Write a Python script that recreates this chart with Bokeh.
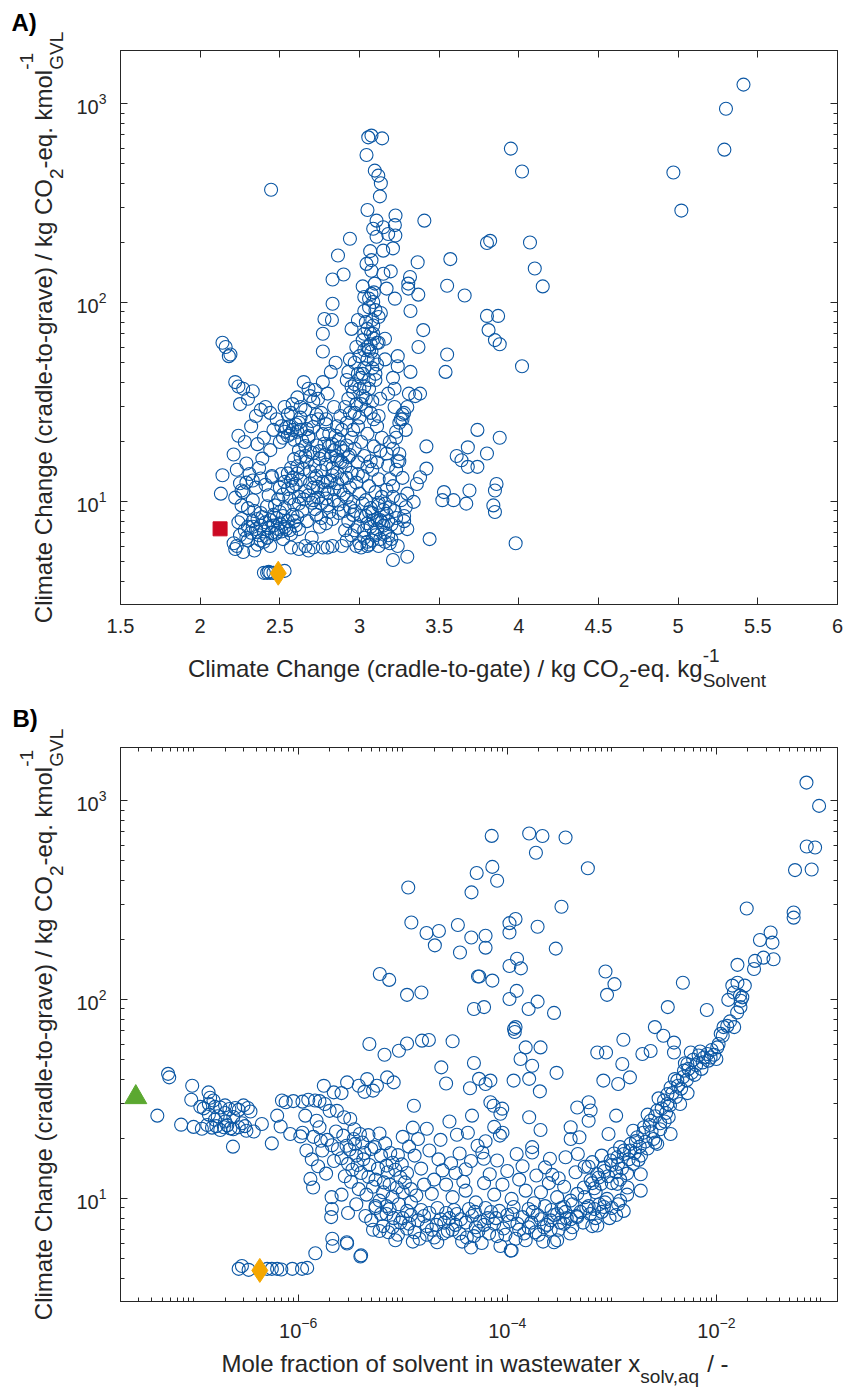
import math
from bokeh.plotting import figure
from bokeh.models import (Range1d, FixedTicker, LinearAxis, LogAxis, Label,
                          CustomJSTickFormatter)
from bokeh.layouts import column, row
from bokeh.embed import file_html
from bokeh.resources import INLINE

# ---------------- data: panel A (cradle-to-gate vs cradle-to-grave) ----------------
a_upper = [(3.055, 679), (3.075, 693), (3.142, 671), (3.044, 554), (3.096, 462), (3.118, 436),
           (3.134, 399), (3.128, 343), (3.05, 293), (3.226, 275), (3.407, 259), (3.107, 259),
           (3.086, 236), (3.149, 240), (3.222, 246), (3.18, 222), (3.225, 218), (3.107, 215),
           (2.94, 210), (3.21, 188), (3.149, 183), (3.067, 182), (2.865, 173), (3.365, 160),
           (3.075, 164), (3.044, 157), (3.196, 144), (3.075, 145), (2.90, 139), (2.831, 131),
           (3.317, 135), (3.306, 125), (3.306, 118), (3.02, 121), (3.096, 125), (3.17, 118),
           (3.369, 110), (3.03, 107), (3.075, 111), (3.086, 101), (3.222, 105), (2.831, 99),
           (3.134, 89), (3.03, 91), (3.32, 91), (2.78, 83), (2.827, 82), (2.77, 70), (2.95, 74),
           (3.086, 77), (3.086, 70), (3.16, 66), (3.03, 70), (3.40, 73), (3.37, 60), (2.77, 57),
           (3.075, 57), (3.24, 54), (3.05, 60), (3.11, 63), (3.06, 95), (3.12, 85), (3.15, 140)]
a_left_high = [(2.445, 370), (2.14, 63), (2.16, 60), (2.19, 55), (2.18, 54)]
a_right = [(5.41, 1250), (5.30, 946), (5.29, 589), (4.97, 452), (5.02, 291), (3.95, 596),
           (4.02, 457), (4.07, 201), (4.10, 149), (4.15, 121), (3.80, 200), (3.82, 205),
           (4.02, 48), (3.80, 86), (3.87, 86), (3.81, 73), (3.85, 65), (3.88, 62), (3.57, 166),
           (3.66, 109), (3.55, 122), (3.55, 55), (3.54, 45), (3.74, 23), (3.88, 21), (3.80, 17.5),
           (3.68, 18.8), (3.64, 16.2), (3.68, 15), (3.74, 15), (3.86, 12.3), (3.85, 11.4),
           (3.61, 17), (3.53, 11.2), (3.52, 10.2), (3.59, 10.2), (3.69, 11.4), (3.67, 9.8),
           (3.84, 9.6), (3.85, 8.9), (3.98, 6.2), (3.44, 6.5)]
a_bottom_left = [(2.32, 7.0), (2.35, 7.3), (2.37, 6.8), (2.38, 7.6), (2.40, 7.1), (2.41, 7.9),
                 (2.42, 6.6), (2.43, 7.4), (2.44, 8.1), (2.45, 7.0), (2.46, 7.6), (2.47, 6.9),
                 (2.48, 8.3), (2.49, 7.3), (2.50, 7.8), (2.51, 7.1), (2.52, 8.5), (2.53, 7.5),
                 (2.55, 8.0), (2.56, 7.2), (2.58, 8.6), (2.60, 7.6), (2.36, 8.2), (2.33, 8.0),
                 (2.30, 7.5), (2.28, 7.2), (2.26, 8.2), (2.24, 7.9), (2.40, 6.3), (2.44, 6.0),
                 (2.36, 6.1), (2.23, 6.0), (2.21, 6.2), (2.22, 5.8), (2.27, 5.6), (2.30, 6.4),
                 (2.52, 6.5), (2.57, 6.9), (2.62, 7.3), (2.34, 5.7), (2.38, 6.4), (2.42, 6.6),
                 (2.25, 6.8), (2.29, 6.6), (2.33, 7.5), (2.39, 8.4), (2.46, 8.6), (2.48, 7.0),
                 (2.54, 7.3), (2.59, 8.0)]
a_low_row = [(2.40, 4.4), (2.42, 4.4), (2.43, 4.45), (2.44, 4.4), (2.46, 4.4), (2.53, 4.5),
             (2.57, 5.9), (2.62, 5.8), (2.68, 5.7), (2.77, 5.9), (2.80, 5.9), (2.83, 6.0),
             (2.89, 6.0), (2.66, 6.0), (2.71, 5.9)]
a_diagonal = [(2.47, 9.6), (2.49, 10.3), (2.50, 11.8), (2.52, 10.9), (2.53, 12.6), (2.55, 13.9),
              (2.55, 11.6), (2.57, 14.8), (2.58, 13.2), (2.59, 16.4), (2.61, 15.1), (2.62, 18.2),
              (2.63, 16.8), (2.64, 20.3), (2.66, 19.1), (2.67, 23.2), (2.68, 21.4), (2.70, 25.5),
              (2.71, 23.8), (2.73, 27.4), (2.56, 10.4), (2.58, 11.9), (2.60, 12.3), (2.61, 13.9),
              (2.63, 12.9), (2.65, 14.6), (2.67, 15.9), (2.69, 14.2), (2.71, 17.6), (2.73, 19.2),
              (2.75, 18.0), (2.77, 21.9), (2.79, 24.6), (2.50, 8.9), (2.53, 9.3), (2.59, 9.7),
              (2.62, 10.6), (2.66, 11.3), (2.69, 12.4), (2.72, 13.1), (2.76, 14.3), (2.79, 15.4),
              (2.82, 16.9)]
a_knot = [(2.52, 21), (2.53, 22.5), (2.54, 23.5), (2.55, 21.5), (2.56, 24), (2.57, 22),
          (2.58, 23), (2.59, 20.5), (2.60, 24.5), (2.61, 22.5), (2.62, 25), (2.63, 23),
          (2.50, 20), (2.51, 24)]
a_left_mid = [(2.21, 17.3), (2.23, 14.5), (2.25, 12.4), (2.27, 11.2), (2.29, 15.6), (2.31, 13.8),
              (2.33, 10.2), (2.35, 11.8), (2.37, 14.8), (2.39, 16.5), (2.41, 12.2), (2.43, 10.8),
              (2.44, 18.2), (2.30, 9.3), (2.34, 9.0), (2.26, 9.6), (2.22, 10.5), (2.38, 8.8),
              (2.42, 9.5), (2.45, 13.5), (2.36, 19.5), (2.40, 21), (2.28, 20), (2.24, 21.5),
              (2.32, 24), (2.35, 27), (2.38, 29), (2.25, 31), (2.30, 33), (2.27, 37), (2.33, 36),
              (2.41, 30), (2.22, 40), (2.24, 38), (2.14, 13.6), (2.13, 11), (2.26, 11.4),
              (2.29, 12.5), (2.33, 12.8), (2.38, 13.1), (2.45, 13.3), (2.51, 13.8), (2.57, 12.8)]
a_middle = [(2.72, 9.2), (2.74, 10.5), (2.76, 8.3), (2.78, 11.5), (2.80, 9.6), (2.82, 12.8),
            (2.84, 10.2), (2.86, 14), (2.88, 11.4), (2.71, 11.8), (2.73, 13.5), (2.75, 7.5),
            (2.79, 7.8), (2.83, 8.2), (2.87, 8.8), (2.89, 13), (2.85, 17), (2.83, 19.5),
            (2.81, 22), (2.86, 24), (2.88, 27), (2.84, 30), (2.79, 26), (2.76, 28), (2.90, 18),
            (2.87, 20.5), (2.74, 33), (2.80, 35), (2.77, 40), (2.82, 45), (2.85, 50), (2.70, 6.6),
            (2.68, 37), (2.71, 32), (2.63, 30), (2.57, 28), (2.68, 21), (2.74, 26), (2.92, 41),
            (2.97, 39), (2.62, 9.8), (2.65, 10.3), (2.68, 10.8), (2.71, 10.2), (2.74, 11.9),
            (2.77, 12.6), (2.80, 11.1), (2.83, 13.6), (2.86, 12.4), (2.89, 15.8), (2.92, 13.2),
            (2.75, 16.5), (2.72, 15.2), (2.69, 17.8), (2.66, 17.0), (2.78, 19.6), (2.84, 18.2),
            (2.88, 16.0), (2.92, 19.2), (2.94, 17.2)]
a_fill = [(2.61, 8.4), (2.64, 9.0), (2.67, 8.0), (2.70, 9.9), (2.73, 8.6), (2.76, 9.8),
          (2.79, 10.4), (2.81, 8.9), (2.84, 11.6), (2.87, 9.7), (2.90, 10.9), (2.63, 26.5),
          (2.66, 29), (2.69, 34), (2.72, 36.5), (2.65, 40), (2.61, 33.5), (2.58, 31), (2.55, 27.5),
          (2.53, 30), (2.48, 26), (2.46, 23), (2.44, 28), (2.80, 12.6), (2.83, 14.8), (2.86, 16.2),
          (2.88, 18.8), (2.81, 19), (2.78, 17.2), (2.85, 21.5), (2.89, 23), (2.91, 30),
          (2.93, 33), (2.96, 35.5), (2.99, 44), (2.94, 52), (3.02, 65), (2.99, 82)]
a_column = [(2.91, 7.2), (2.93, 8.0), (2.95, 6.8), (2.97, 9.0), (2.99, 7.5), (3.01, 8.5),
            (3.03, 6.6), (3.05, 7.8), (3.07, 9.3), (3.09, 7.0), (3.11, 8.2), (3.13, 6.5),
            (3.15, 7.6), (2.92, 10.5), (2.94, 11.8), (2.96, 10), (2.98, 12.5), (3.00, 11),
            (3.02, 13.5), (3.04, 10.2), (3.06, 12), (3.08, 14.5), (3.10, 11.2), (3.12, 13),
            (3.14, 10.6), (2.91, 15), (2.93, 16.8), (2.95, 14), (2.97, 18.5), (2.99, 15.8),
            (3.01, 20), (3.03, 17), (3.05, 22), (3.07, 16), (3.09, 19), (3.11, 24), (3.13, 18),
            (2.92, 25), (2.94, 28), (2.96, 23), (2.98, 31), (3.00, 26.5), (3.02, 34), (3.04, 29),
            (3.06, 37), (3.08, 32), (3.10, 41), (3.12, 27), (2.93, 45), (2.97, 50), (3.00, 54),
            (3.03, 47), (3.06, 58), (3.09, 52), (3.12, 63), (2.95, 38), (3.01, 42), (3.07, 70),
            (3.04, 80), (2.98, 60), (2.96, 8.6), (3.02, 9.8), (3.08, 8.8), (3.12, 9.6),
            (2.94, 9.4), (3.00, 6.2), (3.06, 6.1), (2.90, 9.0), (2.99, 13.8), (3.05, 15),
            (3.11, 15.8), (3.09, 26), (3.03, 38), (2.95, 21), (3.14, 21), (3.01, 5.9),
            (2.98, 6.0), (3.05, 6.3), (2.97, 7.2), (3.03, 7.2), (3.07, 7.5), (3.10, 6.8),
            (3.04, 8.5), (3.13, 8.1), (2.92, 6.4), (3.12, 6.0), (3.05, 6.0), (3.10, 44),
            (3.13, 33), (3.07, 28)]
a_stalk = [(3.04, 33), (3.06, 41), (3.08, 47), (3.05, 52), (3.07, 62), (3.09, 66), (3.05, 74),
           (3.08, 82), (3.10, 92), (3.06, 105), (3.09, 113), (3.03, 58), (3.11, 49), (3.02, 44),
           (3.00, 37), (2.97, 28), (2.99, 24), (3.01, 31)]
a_column_r = [(3.16, 7.0), (3.18, 8.0), (3.20, 6.5), (3.22, 9.0), (3.24, 7.4), (3.26, 10.2),
              (3.28, 8.5), (3.17, 11.5), (3.19, 13), (3.21, 12), (3.23, 14.5), (3.25, 16),
              (3.27, 13.2), (3.17, 17.5), (3.19, 20), (3.21, 18.5), (3.23, 22.5), (3.25, 25),
              (3.29, 23), (3.27, 27.5), (3.30, 11), (3.29, 9.4), (3.21, 5.1), (3.30, 5.3),
              (3.19, 6.2), (3.16, 9.8), (3.18, 15.2), (3.22, 30), (3.18, 35), (3.21, 42),
              (3.24, 48), (3.16, 52), (3.30, 30), (3.31, 35), (3.35, 34), (3.38, 35),
              (3.36, 12.3), (3.38, 13.3), (3.42, 19), (3.42, 14.7), (3.34, 10), (3.32, 45),
              (3.24, 6.0), (3.26, 26), (3.28, 8.0), (3.30, 7.3), (3.23, 21), (3.25, 17.4),
              (3.24, 16), (3.22, 37), (3.28, 28), (3.27, 26), (3.08, 6.4), (3.11, 7.3),
              (3.14, 7.9), (3.17, 8.7), (3.20, 7.7), (3.23, 8.3), (3.18, 6.8), (3.15, 9.1),
              (3.12, 9.9), (3.09, 8.1), (3.06, 8.9), (3.21, 10.6), (3.19, 9.4), (3.16, 6.3)]
a_ref_square = [(2.125, 7.32)]
a_ref_diamond = [(2.49, 4.38)]

# ---------------- data: panel B (mole fraction in wastewater vs cradle-to-grave) ----------------
b_left = [(5.7e-8, 42.5), (5.85e-8, 40.8), (4.5e-8, 26.2), (7.6e-8, 23.6), (9.7e-8, 37),
          (9.5e-8, 31.5), (1.39e-7, 34.3), (1.44e-7, 32.2), (1.55e-7, 31.2), (1.16e-7, 29),
          (2.38e-7, 18.3), (3.76e-7, 21.8), (5.6e-7, 19), (1.0e-7, 23.0), (1.2e-7, 22.5),
          (1.35e-7, 23.5), (1.5e-7, 22.8), (1.65e-7, 23.2), (1.8e-7, 22.2), (1.95e-7, 22.9),
          (2.1e-7, 23.4), (2.25e-7, 22.6), (2.4e-7, 22.4), (2.7e-7, 22.9), (3.1e-7, 23.2),
          (1.25e-7, 28.5), (1.4e-7, 30), (1.6e-7, 29), (1.8e-7, 28.8), (2.0e-7, 29.5),
          (2.2e-7, 28.3), (2.5e-7, 28.6), (2.7e-7, 28), (3.0e-7, 29.5), (3.3e-7, 28.6),
          (1.4e-7, 26.5), (1.7e-7, 26.0), (2.0e-7, 27), (2.4e-7, 25.8), (2.0e-7, 24.5),
          (1.6e-7, 25), (3.5e-7, 27.5), (3.2e-7, 22), (2.9e-7, 24), (4.5e-7, 23.8),
          (6.3e-7, 26.2), (7.0e-7, 31.2), (7.6e-7, 30.6), (6.8e-7, 23.1), (8.4e-7, 21.2)]
b_floor = [(2.7e-7, 4.45), (2.9e-7, 4.6), (3.36e-7, 4.4), (5.05e-7, 4.45), (5.6e-7, 4.45),
           (6.3e-7, 4.45), (6.9e-7, 4.42), (8.8e-7, 4.45), (1.09e-6, 4.45), (1.22e-6, 4.5)]
b_mid = [(1.05e-6, 20.6), (9.0e-7, 31), (1.1e-6, 30.8), (1.25e-6, 31.5), (1.45e-6, 31.2),
         (1.6e-6, 31), (1.8e-6, 30), (1.76e-6, 37), (2.19e-6, 34.3), (2.94e-6, 38.5),
         (3.8e-6, 37), (4.57e-6, 40), (5.67e-6, 37), (7.1e-6, 40.8), (8.2e-6, 38.5),
         (4.3e-6, 34.5), (5.2e-6, 35), (2.6e-6, 34), (2.0e-6, 27.7), (2.35e-6, 27.7),
         (2.75e-6, 25.7), (3.15e-6, 25.2), (3.45e-6, 22.4), (1.17e-6, 26.2), (1.5e-6, 24.7),
         (1.6e-6, 22.9), (1.1e-6, 21.5), (1.4e-6, 20.5), (1.9e-6, 19.8), (2.1e-6, 18.6),
         (1.7e-6, 17.5), (2.4e-6, 17.8), (2.9e-6, 18.5), (3.4e-6, 20), (3.9e-6, 21.2),
         (4.3e-6, 17), (3.6e-6, 16.5), (2.6e-6, 16), (3.0e-6, 15), (2.2e-6, 15.5), (3.3e-6, 14),
         (4.0e-6, 13.5), (2.8e-6, 13), (4.8e-6, 14.8), (5.5e-6, 12.5), (6.2e-6, 16.5),
         (6.8e-6, 19), (7.6e-6, 17), (8.5e-6, 14), (9.5e-6, 12.8), (5.2e-6, 11.5),
         (6.5e-6, 10.8), (7.5e-6, 11.8), (4.5e-6, 10.5), (3.8e-6, 11.2), (6.0e-6, 9.8),
         (8.0e-6, 10.2), (1.0e-5, 10.8), (1.2e-5, 9.6), (5.5e-6, 9.0), (7.0e-6, 9.2),
         (1.1e-5, 13.5), (1.3e-5, 16.5), (1.5e-5, 14.2), (1.8e-5, 17.5), (2.2e-5, 15.8),
         (1.4e-5, 20), (1.7e-5, 22.5), (2.3e-5, 19.8), (2.8e-5, 24.5), (3.3e-5, 21),
         (2.0e-5, 12.5), (2.6e-5, 11.8), (3.2e-5, 13.5), (3.8e-5, 12.2), (4.5e-5, 15.5),
         (5.2e-5, 18.5), (4.2e-5, 21.5), (6.2e-5, 19.5), (7.5e-5, 23), (9.0e-5, 21.5),
         (1.31e-6, 12.6), (1.39e-6, 11.4), (2.09e-6, 10.2), (2.07e-6, 8.1), (2.12e-6, 6.3),
         (2.14e-6, 5.8), (1.46e-6, 5.33), (2.92e-6, 6.05), (4.0e-6, 5.2), (2.1e-6, 8.9),
         (3.94e-6, 5.13), (2.94e-6, 5.97)]
b_mid_fill = [(3.2e-6, 12.2), (3.7e-6, 14.8), (4.2e-6, 15.8), (4.7e-6, 12.9), (5.0e-6, 17.8),
              (5.8e-6, 14.2), (6.6e-6, 12.1), (7.2e-6, 13.6), (8.0e-6, 15.2), (8.8e-6, 11.4),
              (9.8e-6, 14.9), (1.05e-5, 12.1), (1.2e-5, 11.2), (1.35e-5, 10.4), (1.6e-5, 11.8),
              (1.9e-5, 10.6), (2.4e-5, 13.9), (2.9e-5, 15.1), (3.5e-5, 16.9), (4.0e-5, 14.1),
              (6.8e-5, 13.3), (8.0e-5, 15.6), (1.0e-4, 13.8), (1.4e-4, 14.6), (1.9e-4, 13.1),
              (2.3e-4, 14.4), (2.7e-4, 13.2), (3.1e-4, 12.7), (4.5e-4, 13.6), (5.5e-4, 14.5),
              (1.2e-6, 17.5), (1.35e-6, 15.8), (1.55e-6, 14.6), (1.85e-6, 13.4), (1.65e-6, 19.6),
              (2.3e-6, 21.8), (2.7e-6, 20.8), (3.1e-6, 17.7), (3.5e-6, 18.9), (4.1e-6, 19.2),
              (4.7e-6, 20.9), (5.4e-6, 18.2), (6.0e-6, 21.3), (7.0e-6, 14.7), (9.0e-6, 16.6),
              (1.15e-5, 18.3), (1.0e-5, 20.5), (1.25e-5, 22.8)]
b_floor_band = [(5e-6, 7.8), (6e-6, 6.9), (7e-6, 8.4), (8e-6, 7.2), (9e-6, 6.6), (1.0e-5, 8.0),
                (1.15e-5, 7.5), (1.3e-5, 6.8), (1.5e-5, 8.8), (1.7e-5, 7.3), (2.0e-5, 6.4),
                (2.3e-5, 7.9), (2.6e-5, 8.5), (3.0e-5, 7.0), (3.5e-5, 6.7), (4.0e-5, 7.6),
                (4.6e-5, 8.2), (5.3e-5, 6.9), (6.0e-5, 7.4), (7.0e-5, 8.6), (8.0e-5, 6.5),
                (9.2e-5, 7.1), (1.05e-4, 7.7), (1.2e-4, 6.3), (1.4e-4, 8.1), (1.6e-4, 7.2),
                (1.85e-4, 6.8), (2.1e-4, 7.9), (2.4e-4, 7.4), (2.8e-4, 8.3), (3.2e-4, 7.6),
                (3.7e-4, 8.0), (5.5e-6, 9.2), (6.5e-6, 7.3), (7.5e-6, 8.9), (8.5e-6, 6.2),
                (9.5e-6, 7.6), (1.1e-5, 8.7), (1.25e-5, 6.1), (1.4e-5, 7.8), (1.6e-5, 8.2),
                (1.9e-5, 7.0), (2.15e-5, 9.0), (2.45e-5, 6.7), (2.8e-5, 8.0), (3.2e-5, 7.4),
                (3.7e-5, 6.1), (4.3e-5, 8.9), (5.0e-5, 7.2), (5.7e-5, 6.0), (6.5e-5, 8.0),
                (7.5e-5, 7.5), (8.6e-5, 5.8), (1.0e-4, 8.3), (1.1e-4, 5.5), (1.3e-4, 7.0),
                (1.5e-4, 6.2), (1.75e-4, 8.6), (2.0e-4, 6.6), (2.3e-4, 9.2), (2.6e-4, 7.0),
                (3.0e-4, 6.2), (3.5e-4, 7.5), (2.14e-5, 6.05), (4.5e-5, 5.7), (1.08e-4, 5.5),
                (2.8e-4, 6.05), (1.1e-5, 7.1), (1.7e-5, 6.6), (2.5e-5, 7.6), (3.3e-5, 8.4),
                (4.8e-5, 6.5), (6.2e-5, 9.0), (8.4e-5, 8.7), (1.15e-4, 9.1), (1.6e-4, 8.9),
                (2.2e-4, 6.1), (3.3e-4, 9.0), (4.2e-4, 7.2), (5.3e-4, 7.6), (6.2e-4, 8.4),
                (7.6e-4, 9.4), (9.5e-4, 8.0), (1.15e-3, 9.4), (1.3e-3, 8.7)]
b_floor_dense = [(1.2e-5, 8.3), (1.45e-5, 6.3), (1.8e-5, 8.5), (2.1e-5, 7.4), (2.7e-5, 6.9),
                 (3.1e-5, 8.8), (3.6e-5, 7.9), (4.1e-5, 6.4), (4.9e-5, 8.6), (5.5e-5, 7.7),
                 (6.7e-5, 6.7), (7.8e-5, 8.0), (9.6e-5, 6.6), (1.12e-4, 8.4), (1.25e-4, 7.5),
                 (1.45e-4, 6.7), (1.7e-4, 7.6), (1.95e-4, 8.3), (2.25e-4, 7.2), (2.65e-4, 8.8),
                 (3.1e-4, 7.0), (3.6e-4, 8.6), (4.0e-4, 6.7), (4.6e-4, 8.2), (5.7e-4, 9.0),
                 (6.8e-4, 8.9), (8.6e-4, 9.6), (7.3e-6, 6.8), (8.2e-6, 8.0), (9.2e-6, 9.4),
                 (6.2e-6, 8.4), (5.2e-6, 7.0), (4.4e-6, 8.2), (3.6e-6, 9.4), (3.0e-6, 8.5),
                 (2.6e-6, 10.5)]
b_floor_upper = [(3.0e-5, 10.2), (4.0e-5, 11), (5.0e-5, 9.6), (6.0e-5, 12), (7.5e-5, 10.5),
                 (9.0e-5, 11.8), (1.1e-4, 10), (1.3e-4, 12.5), (1.5e-4, 11), (1.8e-4, 9.5),
                 (2.1e-4, 10.8), (2.5e-4, 12), (3.0e-4, 10.2), (3.5e-4, 11.5), (4.2e-4, 9.4),
                 (5.0e-4, 8.6), (6.0e-4, 9.2), (7.0e-4, 8.0), (8.0e-4, 8.6), (1.0e-3, 9.0),
                 (1.2e-3, 9.8), (1.4e-3, 10.5), (9.0e-4, 10), (1.1e-3, 8.3), (6.5e-4, 7.3)]
b_scatter_high = [(1.13e-5, 367), (4.55e-5, 347), (5.1e-5, 434), (1.21e-5, 245), (1.69e-5, 217),
                  (2.22e-5, 222), (2.03e-5, 188), (3.37e-5, 238), (4.53e-5, 206), (3.53e-5, 173),
                  (5.25e-5, 131), (6.04e-6, 135), (7.43e-6, 126), (1.10e-5, 106), (1.51e-5, 109),
                  (4.8e-5, 90), (7.1e-5, 667), (1.62e-4, 686), (2.17e-4, 666), (3.61e-4, 655),
                  (1.88e-4, 549), (5.9e-4, 459), (7.2e-5, 466), (8.0e-5, 397), (3.3e-4, 294),
                  (1.05e-4, 243), (1.2e-4, 255), (1.05e-4, 218), (1.95e-4, 233), (6.2e-5, 210),
                  (6.2e-5, 183), (2.91e-4, 181), (1.24e-4, 161), (1.05e-4, 148), (1.35e-4, 144),
                  (5.4e-5, 131), (7.2e-5, 125), (8.7e-4, 139), (1.06e-3, 120), (9.0e-4, 106),
                  (1.05e-4, 101), (1.23e-4, 111), (1.95e-4, 98), (6.0e-5, 92), (1.6e-4, 90),
                  (2.8e-4, 86), (4.78e-3, 122), (3.43e-3, 92), (8.1e-3, 89)]
b_scatter_mid = [(4.8e-6, 60), (6.7e-6, 53), (9.2e-6, 55.5), (1.1e-5, 60.4), (1.53e-5, 62.4),
                 (1.78e-5, 62.9), (2.34e-5, 45.8), (4.8e-5, 48.2), (4.4e-5, 36), (1.28e-5, 29.4),
                 (4.6e-5, 26.2), (1.16e-4, 71.5), (1.18e-4, 69), (1.2e-4, 73), (1.5e-4, 57.7),
                 (2.08e-4, 57.7), (1.34e-4, 50.5), (1.73e-4, 46.7), (1.62e-4, 40.1),
                 (1.15e-4, 39.3), (2.05e-4, 34.7), (2.96e-4, 43), (5.37e-5, 40.1), (6.2e-5, 37.8),
                 (6.9e-5, 39.3), (6.9e-5, 30.6), (7.4e-5, 29.4), (8.95e-5, 28.4), (8.6e-5, 26.8),
                 (1.62e-4, 25.7), (8.5e-5, 20.8), (2.08e-4, 22.2), (5.77e-5, 17.1), (5.97e-5, 15.9),
                 (1.23e-4, 16.8), (1.73e-4, 18.2), (1.73e-4, 17.1), (2.56e-4, 15.9),
                 (3.61e-4, 16.2), (4.73e-4, 16.8), (7.26e-4, 54.4), (8.8e-4, 54.4), (1.29e-3, 63),
                 (1.26e-3, 47.6), (1.96e-3, 53.5), (2.35e-3, 55.4), (8.3e-4, 39.3),
                 (1.15e-3, 37.8), (1.49e-3, 40.8), (4.67e-4, 28.8), (6.0e-4, 30.6),
                 (6.27e-4, 27.8), (6.0e-4, 24.7), (1.1e-3, 26.2), (4.04e-4, 22.9), (4.9e-4, 20.4),
                 (4.04e-4, 20.0), (9.3e-4, 21.2), (6.5e-4, 15.3), (3.0e-5, 62), (2.6e-5, 38)]
b_rise = [(2.58e-3, 73), (3.11e-3, 66), (3.93e-3, 61), (3.93e-3, 54.4), (6.76e-3, 52.5),
          (7.6e-3, 51.3), (8.2e-3, 53.5), (8.8e-3, 51.3), (0.0102, 57.7), (0.01, 50.5),
          (5.69e-3, 54.4), (5.28e-3, 47.6), (4.9e-3, 44.1), (4.23e-3, 39.3), (3.65e-3, 36.3),
          (3.4e-3, 33.6), (3.16e-3, 31.2), (2.72e-3, 27.8), (2.35e-3, 24.7), (2.03e-3, 22.9),
          (1.75e-3, 20.4), (1.51e-3, 18.9), (1.31e-3, 17.5), (1.13e-3, 16.2), (9.75e-4, 15.6),
          (8.4e-4, 14.4), (7.26e-4, 13.3), (6.27e-4, 12.4), (5.41e-4, 11.4), (4.67e-4, 10.6),
          (4.04e-4, 9.8), (3.48e-4, 9.1), (3.0e-4, 8.4), (2.6e-4, 7.8), (1.89e-3, 11.0),
          (1.89e-3, 13.3), (3.65e-3, 21.2), (2.72e-3, 18.9), (1.41e-3, 11.4), (1.13e-3, 11.9),
          (8.4e-4, 9.1), (7.26e-4, 7.35), (4.67e-4, 8.1), (4.04e-4, 7.9), (5.5e-4, 10.2),
          (6.5e-4, 12), (7.5e-4, 12.8), (8.5e-4, 13.8), (1.0e-3, 14.8), (1.15e-3, 15),
          (1.3e-3, 16.8), (1.5e-3, 17.5), (1.7e-3, 19.5), (2.0e-3, 21.5), (2.3e-3, 23.5),
          (2.6e-3, 26), (3.0e-3, 28.5), (3.4e-3, 30), (3.8e-3, 34), (4.3e-3, 37), (4.8e-3, 41),
          (5.4e-3, 45), (6.0e-3, 50), (7.0e-3, 55), (1.2e-3, 18.2), (8.0e-4, 16.5),
          (6.0e-4, 14.5), (1.6e-3, 22), (2.2e-3, 26.5), (2.8e-3, 32), (4.0e-3, 40),
          (5.0e-3, 48), (1.0e-3, 12), (7.0e-4, 10.8), (2.5e-3, 20), (3.2e-3, 24.5),
          (1.9e-3, 16.5), (1.1e-3, 13.6), (1.25e-3, 14.2), (1.45e-3, 15.8), (1.65e-3, 17.0),
          (1.85e-3, 18.3), (2.1e-3, 19.4), (2.4e-3, 21.8), (2.9e-3, 24.0), (3.3e-3, 27.0),
          (3.6e-3, 29.5), (4.1e-3, 32.5), (4.6e-3, 35.8), (5.2e-3, 39.5), (5.8e-3, 43),
          (6.4e-3, 47), (7.4e-3, 48.5), (8.4e-3, 49.5), (9.5e-3, 53), (6.8e-4, 11.3),
          (7.9e-4, 11.9), (9.2e-4, 13.0), (1.05e-3, 16.9), (1.2e-3, 12.5), (1.4e-3, 13.4),
          (1.6e-3, 15.0), (1.8e-3, 15.7), (2.2e-3, 17.9), (2.6e-3, 19.2), (2.9e-3, 22.4),
          (3.5e-3, 25.8), (4.5e-3, 30), (5.3e-3, 34), (6.2e-3, 42), (7.2e-3, 45)]
b_top_right = [(0.0727, 1236), (0.096, 944), (0.0731, 590), (0.0879, 583), (0.0565, 449),
               (0.0815, 452), (0.0195, 288), (0.0548, 275), (0.0548, 259), (0.033, 218),
               (0.0261, 200), (0.0344, 194), (0.0282, 163), (0.0352, 160), (0.0234, 157),
               (0.0229, 143), (0.0159, 150), (0.0142, 118), (0.0159, 122), (0.0187, 118),
               (0.0147, 109), (0.0168, 105), (0.0177, 103), (0.0171, 99), (0.0158, 86.5),
               (0.0127, 74), (0.0117, 73), (0.0148, 73), (0.011, 67.5), (9.0e-3, 56),
               (0.0105, 60), (0.0115, 66), (0.0135, 78), (0.017, 92), (0.013, 100)]
b_ref_triangle = [(2.8e-8, 32.4)]
b_ref_diamond = [(4.3e-7, 4.37)]

# axis tick values
a_xticks = [1.5, 2, 2.5, 3, 3.5, 4, 4.5, 5, 5.5, 6]
y_major = [10, 100, 1000]
b_xmajor = [1e-6, 1e-4, 1e-2]

# ---------------- styling ----------------
FONT = "Liberation Sans"
INK = "#262626"
BLUE = "#0B57A4"
ORANGE = "#F5A700"
RED = "#CC0A23"
GREEN = "#5BA830"
LBL = 24
SUB = 19
FIX = 0.375   # baseline correction (fraction of font size)
FRAME_W = 717

AW = {' ': 278, '(': 333, ')': 333, '-': 333, '.': 278, '/': 278, ',': 278,
      'a': 556, 'b': 556, 'c': 500, 'd': 556, 'e': 556, 'f': 278, 'g': 556, 'h': 556,
      'i': 222, 'j': 222, 'k': 500, 'l': 222, 'm': 833, 'n': 556, 'o': 556, 'p': 556,
      'q': 556, 'r': 333, 's': 500, 't': 278, 'u': 556, 'v': 500, 'w': 722, 'x': 500,
      'y': 500, 'z': 500, 'C': 722, 'G': 778, 'L': 556, 'M': 833, 'O': 778, 'S': 667,
      'V': 667}


def tw(s, size):
    return sum(AW.get(c, 556) for c in s) * size / 1000.0


def minor_log(lo_exp, hi_exp):
    out = []
    for e in range(lo_exp, hi_exp + 1):
        for k in range(2, 10):
            out.append(k * 10.0 ** e)
    return out


def decades(lo_exp, hi_exp):
    return [10.0 ** e for e in range(lo_exp, hi_exp + 1)]


def style_axis(ax, labels=True, standoff=11):
    ax.axis_line_color = INK
    ax.axis_line_width = 1
    ax.major_tick_line_color = INK
    ax.minor_tick_line_color = INK
    ax.major_tick_in = 7
    ax.major_tick_out = 0
    ax.minor_tick_in = 4
    ax.minor_tick_out = 0
    ax.major_label_text_font = FONT
    ax.major_label_text_font_size = "20px"
    ax.major_label_text_color = INK
    ax.major_label_standoff = standoff
    ax.axis_label = None
    if not labels:
        ax.formatter = CustomJSTickFormatter(code="return ''")
        ax.major_label_standoff = 0


def seg_len(segs):
    total = 0.0
    for text, kind in segs:
        if kind == "n":
            total += tw(text, LBL)
        elif kind == "sub":
            total += tw(text, SUB)
        else:
            total += max(tw(text[0], SUB), tw(text[1], SUB))
    return total


def rich(fig, segs, x0, y0, rotated, sub_shift=10, sup_shift=20):
    pos = 0.0
    for text, kind in segs:
        if kind == "n":
            items = [(text, LBL, 0)]
            adv = tw(text, LBL)
        elif kind == "sub":
            items = [(text, SUB, -sub_shift)]
            adv = tw(text, SUB)
        else:  # (sup, sub)
            sup, sub = text
            items = [(sup, SUB, sup_shift), (sub, SUB, -sub_shift)]
            adv = max(tw(sup, SUB), tw(sub, SUB))
        for t, size, shift in items:
            stripped = t.lstrip(" ")
            lead = tw(t[:len(t) - len(stripped)], size)
            up = shift + FIX * size
            if rotated:
                lab = Label(x=x0 - up, y=y0 + pos + lead, angle=math.pi / 2)
            else:
                lab = Label(x=x0 + pos + lead, y=y0 + up)
            lab.x_units = "screen"
            lab.y_units = "screen"
            lab.text = stripped
            lab.text_font = FONT
            lab.text_font_size = f"{size}px"
            lab.text_color = INK
            lab.text_align = "left"
            lab.text_baseline = "alphabetic"
            fig.add_layout(lab)
        pos += adv


def text_fig(w, h, left=0, right=0):
    f = figure(width=w, height=h, x_range=Range1d(0, w), y_range=Range1d(0, h),
               output_backend="svg", toolbar_location=None,
               x_axis_location=None, y_axis_location=None,
               min_border=0, min_border_left=left, min_border_right=right,
               min_border_top=0, min_border_bottom=0)
    f.outline_line_color = None
    f.grid.visible = False
    f.background_fill_color = "white"
    f.border_fill_color = "white"
    return f


def make_fig(x_type, x_range, height, top, bottom):
    p = figure(width=775, height=height, x_axis_type=x_type, y_axis_type="log",
               x_range=x_range, y_range=Range1d(3.05, 1855),
               output_backend="svg", toolbar_location=None,
               min_border_left=50, min_border_right=8,
               min_border_top=top, min_border_bottom=bottom)
    p.grid.visible = False
    p.outline_line_color = INK
    p.background_fill_color = "white"
    p.border_fill_color = "white"
    return p


def scatter_groups(p, groups):
    xs, ys = [], []
    for g in groups:
        for x, y in g:
            xs.append(x)
            ys.append(y)
    p.scatter(xs, ys, marker="circle", size=13, fill_color=None,
              line_color=BLUE, line_width=1.1)


Y_SEGS = [("Climate Change (cradle-to-grave) / kg CO", "n"), ("2", "sub"),
          ("-eq. kmol", "n"), (("-1", "GVL"), "subsup")]
YLEN = seg_len(Y_SEGS)

# ---------------- panel A ----------------
pa = make_fig("linear", Range1d(1.5, 6), 642, 50, 38)
ya_ticker = FixedTicker(ticks=y_major, minor_ticks=minor_log(0, 3))
xa_ticker = FixedTicker(ticks=a_xticks, minor_ticks=[])
pa.xaxis[0].ticker = xa_ticker
pa.yaxis[0].ticker = ya_ticker
style_axis(pa.xaxis[0], standoff=14)
style_axis(pa.yaxis[0], standoff=14)
ax_top = LinearAxis(ticker=xa_ticker)
ax_right = LogAxis(ticker=ya_ticker)
style_axis(ax_top, labels=False)
style_axis(ax_right, labels=False)
pa.add_layout(ax_top, "above")
pa.add_layout(ax_right, "right")

scatter_groups(pa, [a_upper, a_left_high, a_right, a_bottom_left, a_low_row, a_diagonal,
                    a_knot, a_left_mid, a_middle, a_fill, a_column, a_stalk, a_column_r])
pa.scatter([p[0] for p in a_ref_square], [p[1] for p in a_ref_square], marker="square",
           size=14, fill_color=RED, line_color=RED)
pa.scatter([p[0] for p in a_ref_diamond], [p[1] for p in a_ref_diamond], marker="diamond",
           size=24, fill_color=ORANGE, line_color=ORANGE)

xla = text_fig(775, 53, left=50, right=8)
xa_segs = [("Climate Change (cradle-to-gate) / kg CO", "n"), ("2", "sub"),
           ("-eq. kg", "n"), (("-1", "Solvent"), "subsup")]
rich(xla, xa_segs, FRAME_W / 2 - seg_len(xa_segs) / 2 - 2, 18, False, sup_shift=15)

yla = text_fig(70, 695)
rich(yla, Y_SEGS, 52, 695 - (327 + YLEN / 2), True, sub_shift=11, sup_shift=19)
yla.add_layout(Label(x=11, y=673, x_units="screen", y_units="screen", text="A)",
                     text_font=FONT, text_font_size="24px", text_font_style="bold",
                     text_color="black", text_baseline="alphabetic"))

# ---------------- panel B ----------------
pb = make_fig("log", Range1d(2e-8, 0.144), 655, 52, 49)
xb_ticker = FixedTicker(ticks=b_xmajor, minor_ticks=decades(-7, -1) + minor_log(-8, -1))
yb_ticker = FixedTicker(ticks=y_major, minor_ticks=minor_log(0, 3))
pb.xaxis[0].ticker = xb_ticker
pb.yaxis[0].ticker = yb_ticker
style_axis(pb.xaxis[0], standoff=15)
style_axis(pb.yaxis[0], standoff=14)
bx_top = LogAxis(ticker=xb_ticker)
by_right = LogAxis(ticker=yb_ticker)
style_axis(bx_top, labels=False)
style_axis(by_right, labels=False)
pb.add_layout(bx_top, "above")
pb.add_layout(by_right, "right")

scatter_groups(pb, [b_left, b_floor, b_mid, b_mid_fill, b_floor_band, b_floor_dense,
                    b_floor_upper, b_scatter_high, b_scatter_mid, b_rise, b_top_right])
pb.scatter([p[0] for p in b_ref_triangle], [p[1] for p in b_ref_triangle], marker="triangle",
           size=22, fill_color=GREEN, line_color=GREEN)
pb.scatter([p[0] for p in b_ref_diamond], [p[1] for p in b_ref_diamond], marker="diamond",
           size=24, fill_color=ORANGE, line_color=ORANGE)

xlb = text_fig(775, 40, left=50, right=8)
xb_segs = [("Mole fraction of solvent in wastewater x", "n"), ("solv,aq", "sub"), (" / -", "n")]
rich(xlb, xb_segs, FRAME_W / 2 - seg_len(xb_segs) / 2 - 4, 18, False, sub_shift=11)

ylb = text_fig(70, 695)
rich(ylb, Y_SEGS, 52, 695 - (329 + YLEN / 2), True, sub_shift=11, sup_shift=19)
ylb.add_layout(Label(x=12, y=672, x_units="screen", y_units="screen", text="B)",
                     text_font=FONT, text_font_size="24px", text_font_style="bold",
                     text_color="black", text_baseline="alphabetic"))

layout = column(row(yla, column(pa, xla)), row(ylb, column(pb, xlb)))
open("out.html", "w").write(file_html(layout, INLINE))
